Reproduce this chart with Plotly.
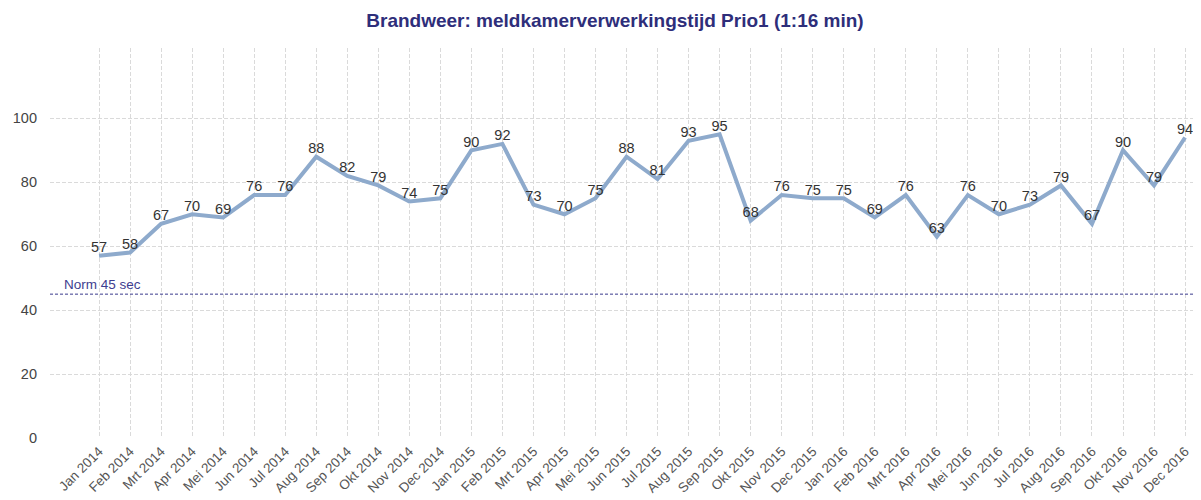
import plotly.graph_objects as go

months = ["Jan", "Feb", "Mrt", "Apr", "Mei", "Jun", "Jul", "Aug", "Sep", "Okt", "Nov", "Dec"]
years = [2014, 2015, 2016]
categories = [f"{m} {y}" for y in years for m in months]
values = [57, 58, 67, 70, 69, 76, 76, 88, 82, 79, 74, 75,
          90, 92, 73, 70, 75, 88, 81, 93, 95, 68, 76, 75,
          75, 69, 76, 63, 76, 70, 73, 79, 67, 90, 79, 94]
norm_value = 45
norm_label = "Norm 45 sec"
title = "Brandweer: meldkamerverwerkingstijd Prio1 (1:16 min)"

FONT = "Arial, Liberation Sans, sans-serif"
x_idx = list(range(len(categories)))

fig = go.Figure()
fig.add_trace(go.Scatter(
    x=x_idx, y=values, mode="lines+text",
    text=[str(v) for v in values], textposition="top center",
    textfont=dict(family=FONT, size=14.5, color="#333333"),
    line=dict(color="#8eaacc", width=4),
    cliponaxis=False, hoverinfo="skip",
))
fig.add_shape(type="line", xref="paper", x0=0, x1=1, yref="y", y0=norm_value, y1=norm_value,
              line=dict(color="#3a3a8c", width=1, dash="3px,2px"))
fig.add_annotation(xref="paper", x=0.0105, yref="y", y=norm_value, text=norm_label,
                   showarrow=False, xanchor="left", yanchor="bottom", yshift=0,
                   font=dict(family=FONT, size=13.5, color="#3e3e90"))

fig.update_layout(
    width=1201, height=500,
    margin=dict(l=42, r=14, t=40, b=70),
    paper_bgcolor="white", plot_bgcolor="white",
    showlegend=False,
    title=dict(text=f"<b>{title}</b>", x=0.5054, xanchor="center", y=0.976, yanchor="middle",
               font=dict(family=FONT, size=19, color="#2e2e7a")),
    xaxis=dict(
        tickmode="array", tickvals=x_idx, ticktext=categories, tickangle=-45,
        range=[-1.58, 35.32], showgrid=True, gridcolor="#dadada", griddash="4px,2px",
        zeroline=False, showline=False, automargin=False, ticklabelstandoff=2,
        tickfont=dict(family=FONT, size=13.5, color="#555555"),
    ),
    yaxis=dict(
        range=[0, 122], tickvals=[0, 20, 40, 60, 80, 100], showgrid=True,
        gridcolor="#dadada", griddash="4px,2px", zeroline=False, showline=False,
        automargin=False, ticks="", ticklen=0, ticklabelstandoff=12,
        tickfont=dict(family=FONT, size=14.5, color="#444444"),
    ),
)

fig.write_html("out.html")
